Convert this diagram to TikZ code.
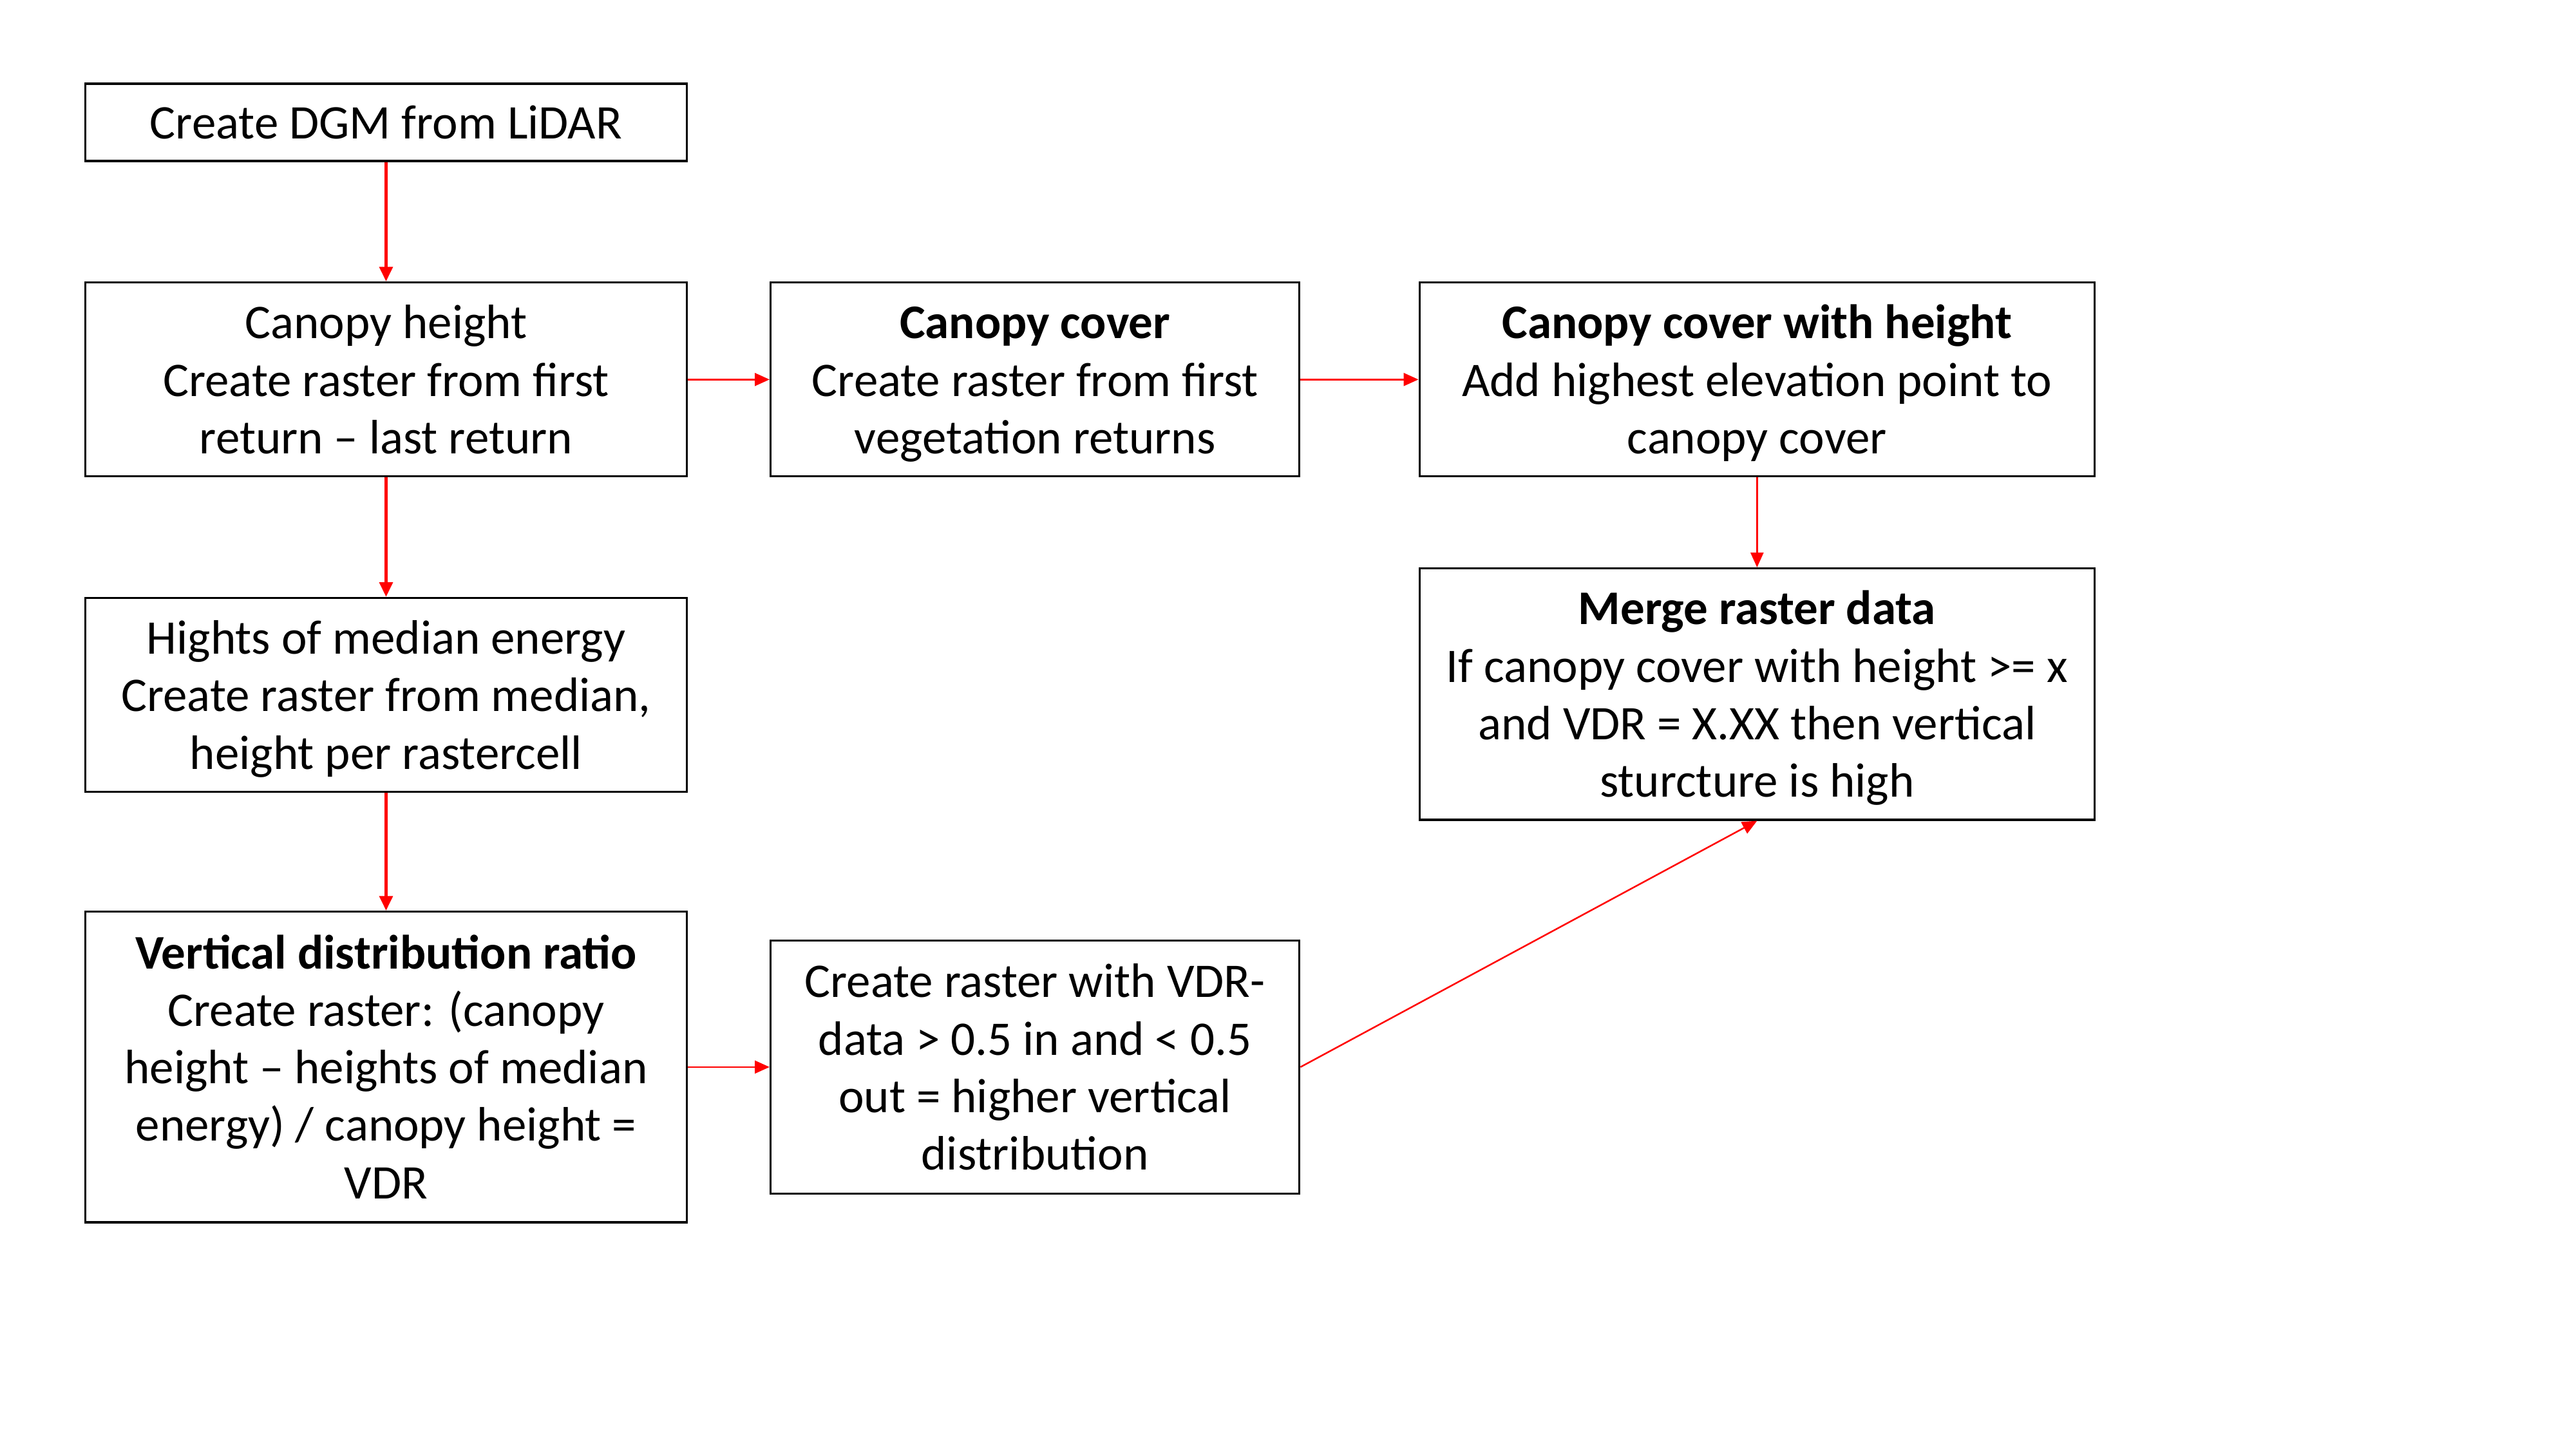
\documentclass[tikz,border=0pt]{standalone}
\usepackage{fontspec}
\setmainfont{Carlito}
\usetikzlibrary{arrows.meta}
\newcommand{\upstr}{\rule{0pt}{17pt}}
\newcommand{\dnstr}{\rule[-4.6pt]{0pt}{4.6pt}}
\begin{document}
\begin{tikzpicture}[x=0.6122pt,y=-0.6122pt]
\tikzstyle{every node}=[draw,line width=0.75pt,align=center,inner sep=0pt,font=\fontsize{18}{21.4}\selectfont];
\tikzstyle{flow}=[red,-{Triangle[length=5.5pt,width=4.8pt]}];
\useasboundingbox (0,0) rectangle (1568,882);

  \node[minimum width=224.1pt,minimum height=28.8pt] (dgm) at (235,74.5) {\upstr Create DGM from LiDAR\dnstr};
  \node[minimum width=224.1pt,minimum height=72.2pt] (ch) at (235,231) {\upstr Canopy height\\Create raster from first\\return -- last return\dnstr};
  \node[minimum width=224.1pt,minimum height=72.2pt] (hme) at (235,423) {\upstr Hights of median energy\\Create raster from median,\\height per rastercell\dnstr};
  \node[minimum width=224.1pt,minimum height=115.7pt] (vdr) at (235,649.5) {\upstr\textbf{Vertical distribution ratio}\\Create raster: (canopy\\height -- heights of median\\energy) / canopy height =\\VDR\dnstr};

  \node[minimum width=197.1pt,minimum height=72.2pt] (cc) at (630,231) {\upstr\textbf{Canopy cover}\\Create raster from first\\vegetation returns\dnstr};
  \node[minimum width=197.1pt,minimum height=94.3pt] (vras) at (630,649.5) {\upstr Create raster with VDR-\\data > 0.5 in and < 0.5\\out = higher vertical\\distribution\dnstr};

  \node[minimum width=251.6pt,minimum height=72.2pt] (cch) at (1069.5,231) {\upstr\textbf{Canopy cover with height}\\Add highest elevation point to\\canopy cover\dnstr};
  \node[minimum width=251.6pt,minimum height=93.7pt] (merge) at (1069.5,422.5) {\upstr\textbf{Merge raster data}\\If canopy cover with height >= x\\and VDR = X.XX then vertical\\sturcture is high\dnstr};

\foreach \from/\to in {dgm/ch, ch/hme, hme/vdr}
\draw [flow,line width=1.4pt] (\from) -- (\to);
\foreach \from/\to in {ch/cc, cc/cch, cch/merge, vdr/vras}
\draw [flow,line width=0.6pt] (\from) -- (\to);

\draw [flow,line width=0.6pt] (vras.east) -- (merge.south);

\end{tikzpicture}
\end{document}
